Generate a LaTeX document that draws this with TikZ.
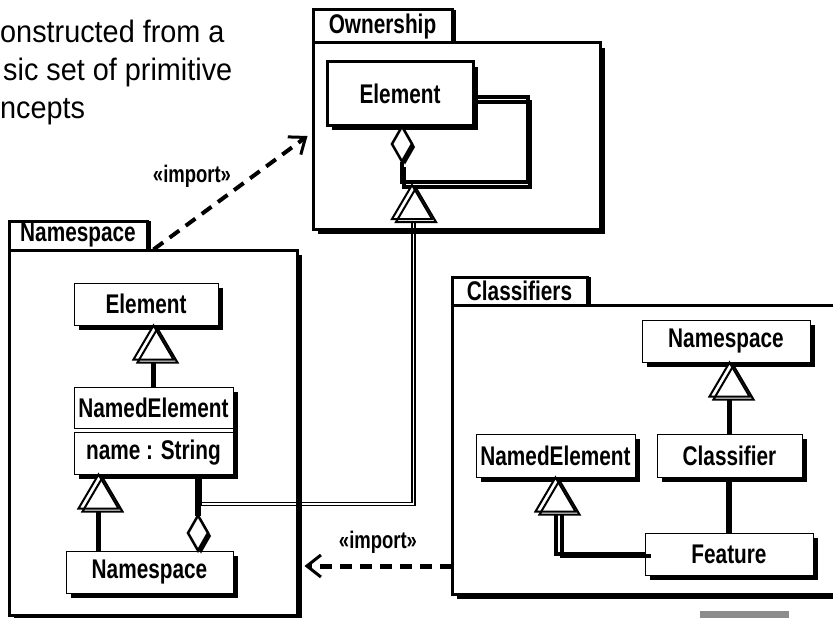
\documentclass[tikz,border=0pt]{standalone}
\usepackage{fontspec}
\setmainfont{Liberation Sans}
\newfontfamily\lblfont{Liberation Sans}[FakeStretch=0.77]
\newfontfamily\capfont{Liberation Sans}[FakeStretch=0.93]
\usetikzlibrary{arrows.meta,shadows,calc}
\definecolor{bargray}{RGB}{140,140,140}

\tikzset{
  boxshadow/.style={drop shadow={shadow xshift=5pt,shadow yshift=-5pt,opacity=1,fill=black}},
  lbl/.style={font=\lblfont\bfseries\fontsize{27}{31}\selectfont},
  stereo/.style={font=\lblfont\bfseries\fontsize{24}{27}\selectfont,inner sep=0pt},
  captext/.style={font=\capfont\fontsize{31}{36}\selectfont,inner sep=0pt},
  classbox/.style={draw,line width=1pt,fill=white,inner sep=0pt,lbl,boxshadow},
  pkgtab/.style={draw,line width=3pt,fill=white,inner sep=0pt,lbl,
    drop shadow={shadow xshift=4pt,shadow yshift=0pt,opacity=1,fill=black}},
  pkgbody/.style={draw,line width=3pt,fill=white,inner sep=0pt,boxshadow},
  solidlink/.style={line width=5.5pt},
  cast/.style n args={3}{line width=#1,
    preaction={draw,line width=#1,transform canvas={xshift=#2,yshift=#3}}},
  importlink/.style={line width=4pt,dash pattern=on 12pt off 8pt,
    -{Straight Barb[length=14pt,width=22pt,line width=3pt]}},
  aggdiamond/.pic={
    \fill[black] (3,3)--(13,20.5)--(3,38)--(-7,20.5)--cycle;
    \draw[line width=2.5pt,fill=white] (0,0)--(10,17.5)--(0,35)--(-10,17.5)--cycle;
  },
  gentri/.pic={
    \fill[white] (0,0)--(24,37)--(-20,37)--(-20,34)--cycle;
    \draw[line width=2pt] (4,3)--(24,37)--(-16,37)--cycle;
    \draw[line width=2pt] (0,0)--(20,34)--(-20,34)--cycle;
  },
}

\begin{document}
\begin{tikzpicture}[x=1pt,y=-1pt]
\useasboundingbox (0,0) rectangle (833,618);
\clip (0,0) rectangle (833,618);

% heading text
\node[captext,anchor=base west] (cap1) at (0,43) {onstructed from a};
\node[captext,anchor=base west] (cap2) at (3,81) {sic set of primitive};
\node[captext,anchor=base west] (cap3) at (0,118) {ncepts};

% package tabs
\node[pkgtab,minimum width=139pt,minimum height=33pt] (ownTab) at (382.5,26.5) {Ownership};
\node[pkgtab,minimum width=138pt,minimum height=29pt] (nsTab) at (78,235.5) {Namespace};
\node[pkgtab,minimum width=135pt,minimum height=28pt] (clTab) at (519.5,291) {Classifiers};

% package bodies
\node[pkgbody,minimum width=287pt,minimum height=186pt] (ownBody) at (456.5,136) {};
\node[pkgbody,minimum width=288pt,minimum height=365.5pt] (nsBody) at (153,432.75) {};
\node[pkgbody,minimum width=418pt,minimum height=289pt] (clBody) at (661,449.5) {};

% Ownership
\node[classbox,line width=3pt,minimum width=146pt,minimum height=63pt] (own) at (400,93.5) {Element};

% Namespace
\node[classbox,minimum width=144pt,minimum height=42pt] (nsElem) at (146,304) {Element};
\node[fill=white,inner sep=0pt,boxshadow,minimum width=159pt,minimum height=87pt] (nsNEbg) at (153.5,430.5) {};
\node[draw,line width=1pt,inner sep=0pt,lbl,minimum width=159pt,minimum height=41pt] (nsNE) at (153.5,407.5) {NamedElement};
\node[draw,line width=1pt,inner sep=0pt,lbl,minimum width=159pt,minimum height=42pt] (nsAttr) at (153.5,453) {name : String};
\node[classbox,minimum width=167pt,minimum height=42pt] (nsNS) at (149.5,572) {Namespace};

% Classifiers
\node[classbox,minimum width=168pt,minimum height=42pt] (clNS) at (726,341) {Namespace};
\node[classbox,minimum width=159pt,minimum height=43pt] (clNE) at (555.5,455.5) {NamedElement};
\node[classbox,minimum width=145pt,minimum height=43pt] (clCl) at (729.5,455.5) {Classifier};
\node[classbox,minimum width=168pt,minimum height=42pt] (clFe) at (729,554) {Feature};

% Ownership: Element owns Element
\draw[cast={4pt}{2pt}{-5pt}] ([xshift=2pt,yshift=-35pt]own.south) -- ++(0,20) -- ++(126,0) |- ([yshift=-3.5pt]own.east);
\pic at ([xshift=2pt]own.south) {aggdiamond};

% Namespace: generalizations and ownership
\draw[solidlink] (nsNE.north) -- ($(nsNE.north |- nsElem.south)+(0,34)$);
\pic at (nsNE.north |- nsElem.south) {gentri};
\draw[solidlink] ([xshift=-51pt]nsNS.north) -- ([xshift=-55pt,yshift=-34pt]nsAttr.south);
\pic at ([xshift=-55pt]nsAttr.south) {gentri};
\draw[solidlink] ([xshift=44.5pt]nsAttr.south) -- ([xshift=48.5pt,yshift=35pt]nsNS.north);
\pic at ([xshift=48.5pt,yshift=35pt]nsNS.north) {aggdiamond};

% NamedElement specializes Ownership::Element
\coordinate (ownGen) at (412,185);
\draw[cast={1.3pt}{3pt}{-3pt}] ([xshift=44.5pt]nsAttr.south) -- ++(0,28) -| ([yshift=-34pt]ownGen);
\pic at (ownGen) {gentri};

% Classifiers
\draw[solidlink] (clCl.north) -- ($(clCl.north |- clNS.south)+(0,34)$);
\pic at (clCl.north |- clNS.south) {gentri};
\draw[solidlink] (clFe.north) -- (clFe.north |- clCl.south);
\draw[cast={4pt}{6pt}{-2pt}] (clFe.west) -| ([yshift=-34pt]clNE.south);
\pic at (clNE.south) {gentri};

% imports
\draw[importlink] ([xshift=5pt,yshift=2pt]nsTab.south east) -- ([xshift=-4pt]ownBody.west);
\node[stereo] (imp1) at (192,176) {«import»};
\coordinate (clImp) at (452,566);
\draw[importlink,line width=5pt] (clImp) -- ($(nsBody.east |- clImp)+(6,0)$);
\node[stereo] (imp2) at (378,542) {«import»};

% scroll bar fragment
\fill[bargray] (700,611) rectangle (789,618);
\end{tikzpicture}
\end{document}
